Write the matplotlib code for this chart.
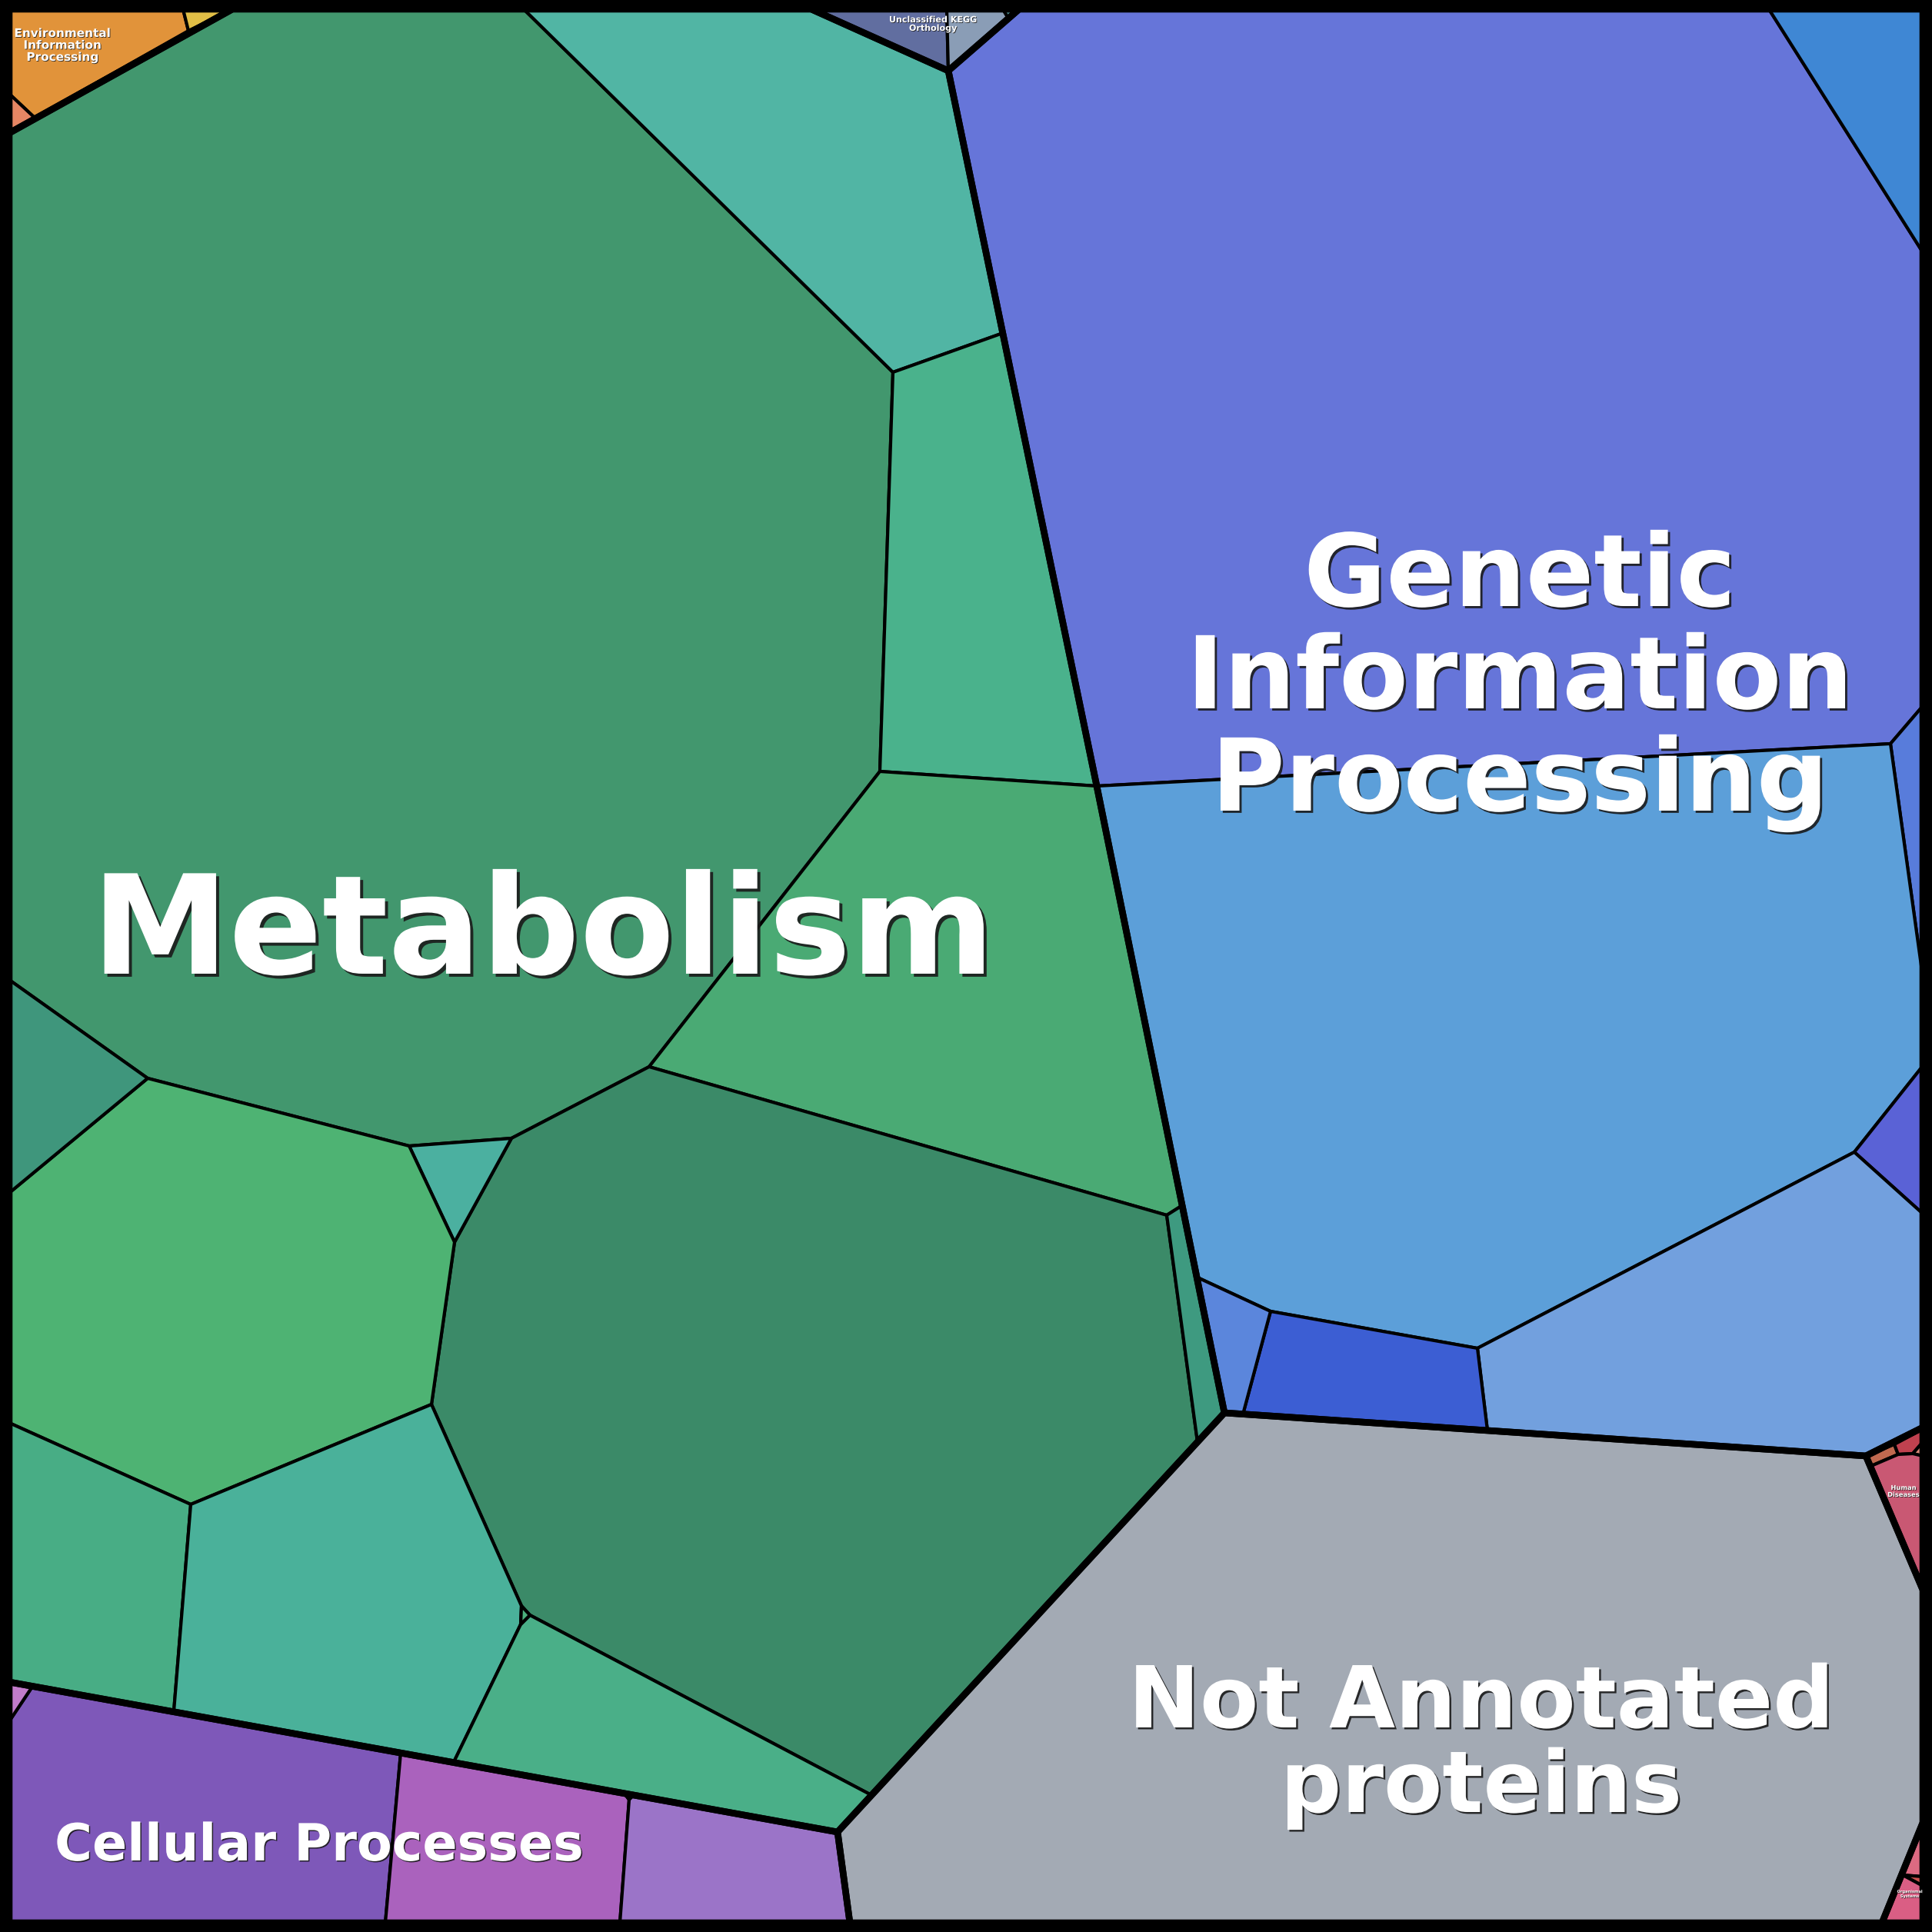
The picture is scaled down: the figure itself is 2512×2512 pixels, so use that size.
import matplotlib
matplotlib.use("Agg")
import matplotlib.pyplot as plt
import matplotlib.patheffects as pe
from matplotlib.patches import Polygon, Rectangle

# top level categories of the voronoi treemap
categories = ["Metabolism", "Genetic Information Processing", "Not Annotated proteins",
              "Cellular Processes", "Environmental Information Processing",
              "Unclassified KEGG Orthology", "Human Diseases", "Organismal Systems"]
label_lines = [["Metabolism"], ["Genetic", "Information", "Processing"],
               ["Not Annotated", "proteins"], ["Cellular Processes"],
               ["Environmental", "Information", "Processing"],
               ["Unclassified KEGG", "Orthology"], ["Human", "Diseases"],
               ["Organismal", "Systems"]]

# layout (pixel space of the 2512 px canvas, y down)
outline = {
    "Metabolism": [(12, 173), (302, 12), (1055, 12), (1233, 92), (1426, 1022),
                   (1592, 1837), (1089, 2382), (12, 2187)],
    "Genetic Information Processing": [(1233, 92), (1325, 12), (2500, 12), (2500, 1856),
                                       (2426, 1893), (1592, 1837), (1426, 1022)],
    "Not Annotated proteins": [(1592, 1837), (2426, 1893), (2500, 2067), (2500, 2370),
                               (2447, 2500), (1105, 2500), (1089, 2382)],
    "Cellular Processes": [(12, 2187), (1089, 2382), (1105, 2500), (12, 2500)],
    "Environmental Information Processing": [(12, 12), (302, 12), (12, 173)],
    "Unclassified KEGG Orthology": [(1055, 12), (1325, 12), (1233, 92)],
    "Human Diseases": [(2426, 1893), (2500, 1856), (2500, 2067)],
    "Organismal Systems": [(2500, 2370), (2500, 2500), (2447, 2500)],
}

# sub cells: (category, colour, vertices)
subcells = [
    # Metabolism
    ("Metabolism", "#42976e", [(12, 173), (302, 12), (681, 12), (1161, 484), (1144, 1003), (844, 1387),
                              (665, 1480), (532, 1490), (192, 1402), (12, 1274)]),
    ("Metabolism", "#51b5a4", [(681, 12), (1055, 12), (1233, 92), (1304, 433), (1161, 484)]),
    ("Metabolism", "#4ab28c", [(1161, 484), (1304, 433), (1426, 1022), (1144, 1003)]),
    ("Metabolism", "#4aaa74", [(1144, 1003), (1426, 1022), (1536, 1568), (1517, 1580), (844, 1387)]),
    ("Metabolism", "#3b8a68", [(665, 1480), (844, 1387), (1517, 1580), (1557, 1875), (1133, 2334),
                              (689, 2100), (678, 2088), (561, 1826), (591, 1615)]),
    ("Metabolism", "#4bb0a0", [(532, 1490), (665, 1480), (591, 1615)]),
    ("Metabolism", "#4eb373", [(12, 1551), (192, 1402), (532, 1490), (591, 1615), (561, 1826),
                              (248, 1956), (12, 1850)]),
    ("Metabolism", "#3f967c", [(12, 1274), (192, 1402), (12, 1551)]),
    ("Metabolism", "#48ad85", [(12, 1850), (248, 1956), (226, 2225), (12, 2187)]),
    ("Metabolism", "#4ab19a", [(248, 1956), (561, 1826), (678, 2088), (677, 2112), (590, 2291),
                              (226, 2225)]),
    ("Metabolism", "#4aaf88", [(677, 2112), (689, 2100), (1133, 2334), (1089, 2382), (590, 2291)]),
    ("Metabolism", "#3e9a80", [(1517, 1580), (1536, 1568), (1592, 1837), (1557, 1875)]),
    ("Metabolism", "#4cb07c", [(678, 2088), (689, 2100), (677, 2112)]),
    # Genetic Information Processing
    ("Genetic Information Processing", "#6675d9", [(1233, 92), (1325, 12), (2300, 12), (2500, 328),
                                                  (2500, 918), (2458, 967), (1426, 1022)]),
    ("Genetic Information Processing", "#3f87d4", [(2300, 12), (2500, 12), (2500, 328)]),
    ("Genetic Information Processing", "#587cdb", [(2458, 967), (2500, 918), (2500, 1270)]),
    ("Genetic Information Processing", "#5c9fd9", [(1426, 1022), (2458, 967), (2500, 1270), (2500, 1386),
                                                  (2411, 1498), (1921, 1753), (1652, 1705),
                                                  (1557, 1661)]),
    ("Genetic Information Processing", "#5a62d6", [(2500, 1386), (2500, 1578), (2411, 1498)]),
    ("Genetic Information Processing", "#72a0de", [(2411, 1498), (2500, 1578), (2500, 1856), (2426, 1893),
                                                  (1934, 1860), (1921, 1753)]),
    ("Genetic Information Processing", "#3c5ed3", [(1652, 1705), (1921, 1753), (1934, 1860), (1616, 1839)]),
    ("Genetic Information Processing", "#5b86dc", [(1557, 1661), (1652, 1705), (1616, 1839), (1592, 1837)]),
    # Not Annotated proteins
    ("Not Annotated proteins", "#a3aab4", outline["Not Annotated proteins"]),
    # Cellular Processes
    ("Cellular Processes", "#7e58b9", [(12, 2238), (42, 2193), (521, 2279), (501, 2500), (12, 2500)]),
    ("Cellular Processes", "#c27ccb", [(12, 2187), (42, 2193), (12, 2238)]),
    ("Cellular Processes", "#aa62bd", [(521, 2279), (812, 2332), (818, 2340), (806, 2500), (501, 2500)]),
    ("Cellular Processes", "#b070c8", [(812, 2332), (824, 2334), (818, 2340)]),
    ("Cellular Processes", "#9b74c8", [(824, 2334), (1089, 2382), (1105, 2500), (806, 2500), (818, 2340)]),
    # Environmental Information Processing
    ("Environmental Information Processing", "#e1933a", [(12, 12), (238, 12), (245, 40), (45, 153), (12, 122)]),
    ("Environmental Information Processing", "#e1be46", [(238, 12), (302, 12), (245, 40)]),
    ("Environmental Information Processing", "#e68664", [(12, 122), (45, 153), (12, 173)]),
    # Unclassified KEGG Orthology
    ("Unclassified KEGG Orthology", "#616ea0", [(1055, 12), (1231, 12), (1233, 92)]),
    ("Unclassified KEGG Orthology", "#8a9db6", [(1231, 12), (1304, 12), (1310, 22), (1233, 92)]),
    ("Unclassified KEGG Orthology", "#4b8c8e", [(1304, 12), (1325, 12), (1310, 22)]),
    # Human Diseases
    ("Human Diseases", "#c0694f", [(2426, 1893), (2463, 1878), (2468, 1891), (2433, 1906)]),
    ("Human Diseases", "#c0414f", [(2463, 1878), (2500, 1858), (2500, 1875), (2487, 1890), (2468, 1891)]),
    ("Human Diseases", "#d98878", [(2487, 1890), (2500, 1875), (2500, 1893)]),
    ("Human Diseases", "#c95873", [(2433, 1906), (2468, 1891), (2487, 1890), (2500, 1893), (2500, 2067)]),
    # Organismal Systems
    ("Organismal Systems", "#dc6a82", [(2500, 2370), (2500, 2440), (2474, 2438)]),
    ("Organismal Systems", "#c9504f", [(2474, 2438), (2500, 2440), (2500, 2452)]),
    ("Organismal Systems", "#da5e84", [(2474, 2438), (2500, 2452), (2500, 2500), (2447, 2500)]),
]

# label anchor: centre x, first baseline, line step, font size (pt)
label_style = {
    "Metabolism": (706, 1266, 0, 129),
    "Genetic Information Processing": (1976, 788, 133, 94),
    "Not Annotated proteins": (1926, 2246, 110, 80),
    "Cellular Processes": (415, 2419, 0, 48),
    "Environmental Information Processing": (81, 48, 15.5, 11),
    "Unclassified KEGG Orthology": (1213, 29, 11, 8),
    "Human Diseases": (2475, 1937, 9, 6),
    "Organismal Systems": (2483, 2461, 6, 3.7),
}

fig = plt.figure(figsize=(25.12, 25.12), dpi=100, facecolor="black")
ax = fig.add_axes([0, 0, 1, 1])
ax.set_xlim(0, 2512)
ax.set_ylim(2512, 0)
ax.axis("off")
ax.set_facecolor("black")

frame = Rectangle((12, 12), 2488, 2488, transform=ax.transData)

for cat, col, pts in subcells:
    p = ax.add_patch(Polygon(pts, closed=True, facecolor=col, edgecolor="black",
                             linewidth=3.0, joinstyle="round", zorder=1))
    p.set_clip_path(frame)

for cat in categories:
    p = ax.add_patch(Polygon(outline[cat], closed=True, facecolor="none", edgecolor="black",
                             linewidth=6.2, joinstyle="round", zorder=2))
    p.set_clip_path(frame)

for cat, lines in zip(categories, label_lines):
    x, y0, step, fs = label_style[cat]
    off = max(0.6, fs * 0.022)
    for i, line in enumerate(lines):
        ax.text(x, y0 + i * step, line, ha="center", va="baseline", color="white",
                fontsize=fs, fontweight="bold", family="DejaVu Sans", zorder=5,
                path_effects=[pe.withSimplePatchShadow(offset=(off, -off),
                                                       shadow_rgbFace="#1a1a1a", alpha=0.9)])

fig.savefig("out.png", dpi=100, facecolor="black")
